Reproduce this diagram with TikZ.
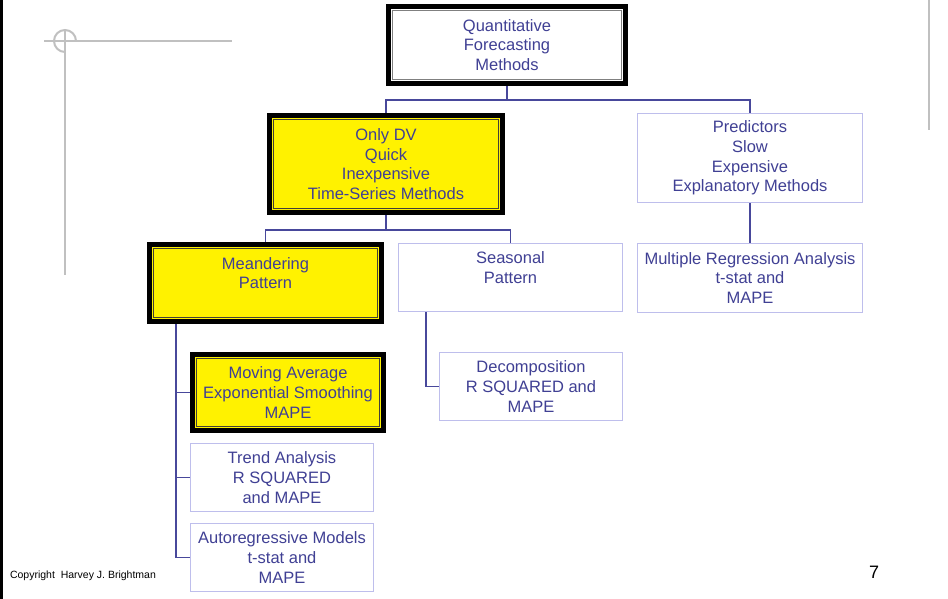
\documentclass[tikz,border=0pt]{standalone}
\usepackage{fontspec}
\setmainfont{Liberation Sans}
\usetikzlibrary{calc,backgrounds}
\definecolor{txtblue}{RGB}{64,64,148}
\definecolor{linkblue}{RGB}{72,72,155}
\definecolor{frameblue}{RGB}{190,190,236}
\definecolor{decogray}{RGB}{192,192,192}
\begin{document}
\begin{tikzpicture}[x=1pt,y=-1pt,
  every node/.style={inner sep=0pt, outer sep=0pt},
  label text/.style={text=txtblue, align=center, font=\fontsize{16.5}{19.7}\selectfont},
  plainbox/.style={label text, draw=frameblue, line width=1.3pt, fill=white},
  heavybox/.style={label text, draw=black, line width=5pt},
  hlbox/.style={heavybox, fill=yellow},
  topbox/.style={heavybox, fill=white},
  link/.style={draw=linkblue, line width=1.2pt},
  deco/.style={draw=decogray, line width=2pt}]

\useasboundingbox (0,0) rectangle (948,599);

% slide decorations
\draw[black, line width=2.6pt] (1.3,0) -- (1.3,599);
\draw[deco] (44,41) -- (232,41);
\draw[deco] (65,31) -- (65,275);
\draw[deco] (65,52) arc[start angle=90, end angle=360, radius=11];
\draw[deco] (929,0) -- (929,130);

% level 0
\node[topbox, minimum width=237pt, minimum height=77pt] (top) at (507,45)
  {Quantitative\\Forecasting\\Methods};

% level 1
\node[hlbox, minimum width=233pt, minimum height=97pt] (dv) at (386,164)
  {Only DV\\Quick\\Inexpensive\\Time-Series Methods};
\node[plainbox, minimum width=224.7pt, minimum height=88.7pt] (pred) at (750,158)
  {Predictors\\Slow\\Expensive\\Explanatory Methods};

% level 2
\node[hlbox, minimum width=232pt, minimum height=77pt] (mea) at (265.5,283)
  {Meandering\\Pattern\\\mbox{}};
\node[plainbox, minimum width=223.7pt, minimum height=67.7pt] (seas) at (510.5,277.5)
  {Seasonal\\Pattern\\\mbox{}};
\node[plainbox, minimum width=224.7pt, minimum height=68.7pt] (mr) at (750,278)
  {Multiple Regression Analysis\\t-stat and\\MAPE};

% level 3
\node[hlbox, minimum width=191pt, minimum height=76pt] (ma) at (288,392.5)
  {Moving Average\\Exponential Smoothing\\MAPE};
\node[plainbox, minimum width=182.7pt, minimum height=67.7pt] (dec) at (531,386.5)
  {Decomposition\\R SQUARED and\\MAPE};
\node[plainbox, minimum width=182.7pt, minimum height=67.7pt] (tr) at (282,477.5)
  {Trend Analysis\\R SQUARED\\and MAPE};
\node[plainbox, minimum width=182.7pt, minimum height=67.7pt] (ar) at (282,557.5)
  {Autoregressive Models\\t-stat and\\MAPE};

% thin inner rule of the thick-thin frames
\draw[gray, line width=1pt] ($(top.north west)+(4,4)$) rectangle ($(top.south east)-(4,4)$);
\foreach \n in {dv,mea,ma}
  \draw[black!85!yellow, line width=1pt] ($(\n.north west)+(4,4)$) rectangle ($(\n.south east)-(4,4)$);

% tree connectors
\begin{pgfonlayer}{background}
  \coordinate (j0) at (507,100);
  \coordinate (j1) at (386,230);
  \coordinate (j2) at (426,312);
  \coordinate (j3) at (176,322);
  \draw[link] (top.south) -- (j0);
  \draw[link] (dv.north) |- (j0) -| (pred.north);
  \draw[link] (dv.south) -- (j1);
  \draw[link] (mea.north) |- (j1) -| (seas.north);
  \draw[link] (pred.south) -- (mr.north);
  \draw[link] (j2) |- (dec.west);
  \draw[link] (j3) |- (ma.west);
  \draw[link] (j3) |- (tr.west);
  \draw[link] (j3) |- (ar.west);
\end{pgfonlayer}

% footer
\node[anchor=west, font=\fontsize{10.5}{12}\selectfont] (copy) at (10,576)
  {Copyright\ \ Harvey J. Brightman};
\node[font=\fontsize{18}{20}\selectfont] (pg) at (874,572) {7};
\end{tikzpicture}
\end{document}
